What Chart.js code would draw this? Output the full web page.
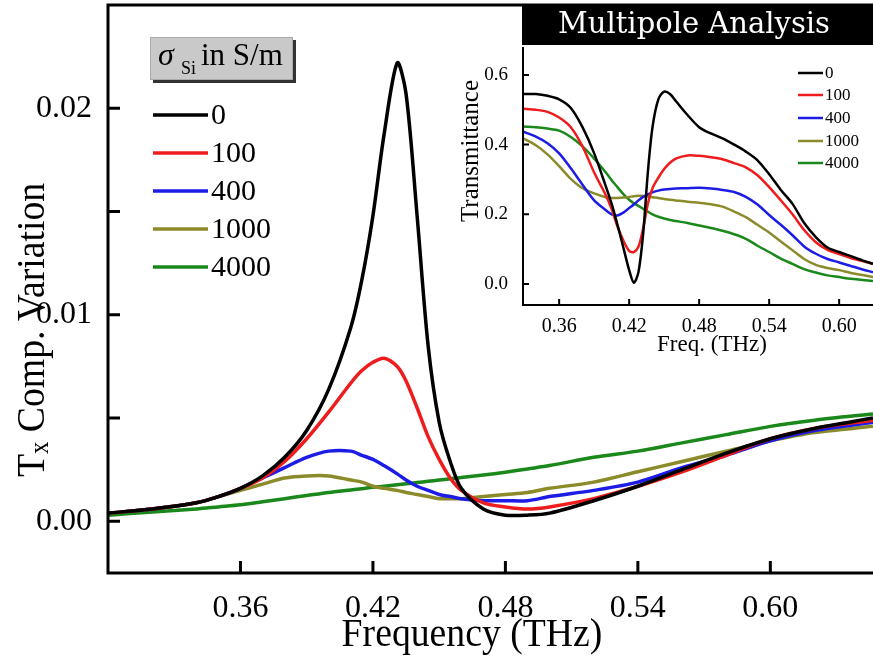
<!DOCTYPE html>
<html>
<head>
<meta charset="utf-8">
<script src="https://cdn.jsdelivr.net/npm/chart.js@4"></script>
<style>
  body { margin: 0; background: #fff; }
  #wrap { position: relative; width: 873px; height: 661px; overflow: hidden; }
  #main { position: absolute; left: 0; top: 0; }
  #inset { position: absolute; left: 440px; top: 0; }
</style>
</head>
<body>
<div id="wrap">
  <canvas id="main" width="873" height="661"></canvas>
  <canvas id="inset" width="433" height="365"></canvas>
</div>
<script>
var serif = "'Liberation Serif', 'Times New Roman', serif";

var sigmaLabels = ['0', '100', '400', '1000', '4000'];
var lineColors = ['#000000', '#ee1c1c', '#1c1ce6', '#8b8b2b', '#1a881a'];

// Tx component variation vs frequency (THz)
var freq = [0.30, 0.32, 0.34, 0.35, 0.36, 0.37, 0.38, 0.39, 0.40, 0.41, 0.415, 0.42, 0.425, 0.431, 0.435,
            0.44, 0.445, 0.45, 0.455, 0.46, 0.47, 0.48, 0.49, 0.50, 0.52, 0.54, 0.56, 0.58, 0.60, 0.62, 0.6465];
var tx0    = [0.0004, 0.0006, 0.0009, 0.0012, 0.0016, 0.0022, 0.0031, 0.0044, 0.0064, 0.0094, 0.0117, 0.0148, 0.0187, 0.0222, 0.0207,
              0.0148, 0.0085, 0.0048, 0.0029, 0.0016, 0.0006, 0.0003, 0.0003, 0.0004, 0.0010, 0.0017, 0.0025, 0.0033, 0.0040, 0.0045, 0.0050];
var tx100  = [0.0004, 0.0006, 0.0009, 0.0012, 0.0016, 0.0021, 0.0029, 0.0040, 0.0053, 0.0067, 0.0073, 0.0077, 0.0079, 0.0075, 0.0068,
              0.0055, 0.0041, 0.0030, 0.0021, 0.0015, 0.0009, 0.0007, 0.0006, 0.0007, 0.0011, 0.0017, 0.0024, 0.0032, 0.0040, 0.0045, 0.0049];
var tx400  = [0.0004, 0.0006, 0.0009, 0.0012, 0.0016, 0.0021, 0.0026, 0.0031, 0.0034, 0.0034, 0.0032, 0.0030, 0.0027, 0.0023, 0.0020,
              0.0017, 0.0015, 0.0013, 0.0012, 0.0011, 0.0010, 0.0010, 0.0010, 0.0012, 0.0015, 0.0019, 0.0026, 0.0032, 0.0039, 0.0044, 0.0048];
var tx1000 = [0.0004, 0.0006, 0.0009, 0.0012, 0.0015, 0.0018, 0.0021, 0.0022, 0.0022, 0.0020, 0.0019, 0.0017, 0.0016, 0.0015, 0.0014,
              0.0013, 0.0012, 0.0011, 0.0011, 0.0011, 0.0012, 0.0013, 0.0014, 0.0016, 0.0019, 0.0024, 0.0029, 0.0034, 0.0039, 0.0043, 0.0046];
var tx4000 = [0.0003, 0.00045, 0.0006, 0.0007, 0.0008, 0.00095, 0.0011, 0.00125, 0.0014, 0.00152, 0.00158, 0.00165, 0.0017, 0.00177, 0.00182,
              0.00188, 0.00194, 0.0020, 0.00206, 0.00212, 0.00224, 0.00238, 0.00254, 0.0027, 0.0031, 0.0034, 0.0038, 0.0042, 0.0046, 0.0049, 0.0052];

// transmittance (multipole analysis)
var freqInset = [0.329, 0.34, 0.35, 0.36, 0.37, 0.38, 0.39, 0.40, 0.405, 0.41, 0.415, 0.42, 0.424, 0.428, 0.432, 0.436, 0.44, 0.445, 0.45,
                 0.455, 0.46, 0.47, 0.48, 0.49, 0.50, 0.51, 0.52, 0.53, 0.54, 0.55, 0.56, 0.57, 0.58, 0.59, 0.60, 0.61, 0.62, 0.629];
var tr0    = [0.545, 0.545, 0.540, 0.530, 0.505, 0.450, 0.375, 0.280, 0.230, 0.170, 0.105, 0.040, 0.004, 0.035, 0.145, 0.320, 0.450, 0.530, 0.552,
              0.545, 0.525, 0.485, 0.450, 0.432, 0.418, 0.400, 0.380, 0.355, 0.315, 0.270, 0.230, 0.175, 0.135, 0.105, 0.092, 0.080, 0.068, 0.058];
var tr100  = [0.503, 0.500, 0.494, 0.478, 0.450, 0.395, 0.320, 0.255, 0.215, 0.165, 0.125, 0.095, 0.092, 0.108, 0.160, 0.230, 0.275, 0.305, 0.330,
              0.348, 0.360, 0.369, 0.368, 0.364, 0.358, 0.347, 0.335, 0.312, 0.278, 0.240, 0.200, 0.155, 0.120, 0.098, 0.086, 0.075, 0.066, 0.058];
var tr400  = [0.437, 0.423, 0.404, 0.375, 0.332, 0.285, 0.240, 0.212, 0.200, 0.197, 0.205, 0.218, 0.228, 0.240, 0.250, 0.257, 0.263, 0.268, 0.271,
              0.273, 0.274, 0.275, 0.276, 0.274, 0.270, 0.264, 0.250, 0.228, 0.198, 0.170, 0.140, 0.108, 0.087, 0.072, 0.062, 0.052, 0.042, 0.034];
var tr1000 = [0.418, 0.398, 0.372, 0.338, 0.302, 0.275, 0.260, 0.249, 0.247, 0.247, 0.248, 0.250, 0.252, 0.253, 0.253, 0.251, 0.249, 0.247, 0.244,
              0.242, 0.240, 0.236, 0.233, 0.229, 0.222, 0.208, 0.192, 0.170, 0.148, 0.122, 0.097, 0.072, 0.055, 0.046, 0.040, 0.032, 0.026, 0.020];
var tr4000 = [0.452, 0.450, 0.446, 0.440, 0.422, 0.395, 0.360, 0.320, 0.298, 0.278, 0.258, 0.242, 0.232, 0.224, 0.216, 0.208, 0.200, 0.193, 0.188,
              0.184, 0.181, 0.175, 0.168, 0.161, 0.153, 0.143, 0.130, 0.110, 0.092, 0.073, 0.058, 0.043, 0.033, 0.025, 0.020, 0.015, 0.012, 0.009];

var freqTicks = [0.36, 0.42, 0.48, 0.54, 0.60];
var txTicks = [0.00, 0.01, 0.02];
var txMinorTicks = [0.005, 0.015];
var trTicks = [0.0, 0.2, 0.4, 0.6];

function pts(xs, ys) {
  return xs.map(function (x, i) { return { x: x, y: ys[i] }; });
}

function makeSets(xs, series, width) {
  return series.map(function (ys, i) {
    return {
      label: sigmaLabels[i],
      data: pts(xs, ys),
      borderColor: lineColors[i],
      borderWidth: width,
      pointRadius: 0,
      fill: false,
      tension: 0.3
    };
  });
}

function fixedTicks(values) {
  return function (scale) {
    scale.ticks = values.map(function (v) { return { value: v }; });
  };
}

// keep the plot box where it is: no extra room for the end labels
function fixSize(prop, size) {
  return function (s) {
    s[prop] = size;
    s.paddingTop = 0; s.paddingBottom = 0;
    s.paddingLeft = 0; s.paddingRight = 0;
  };
}

// axis lines and inward tick marks
function drawFrame(chart, o) {
  var ctx = chart.ctx, a = chart.chartArea;
  var xs = chart.scales.x, ys = chart.scales.y;
  ctx.save();
  ctx.strokeStyle = '#000';
  ctx.lineWidth = o.lw;
  ctx.beginPath();
  ctx.moveTo(a.left, a.top);
  ctx.lineTo(a.left, a.bottom);
  ctx.lineTo(a.right, a.bottom);
  if (o.top) {
    ctx.moveTo(a.left - o.lw / 2, a.top);
    ctx.lineTo(a.right, a.top);
  }
  o.xTicks.forEach(function (v) {
    var p = xs.getPixelForValue(v);
    ctx.moveTo(p, a.bottom);
    ctx.lineTo(p, a.bottom - o.len);
  });
  o.yTicks.forEach(function (v) {
    var p = ys.getPixelForValue(v);
    ctx.moveTo(a.left, p);
    ctx.lineTo(a.left + o.len, p);
  });
  ctx.stroke();
  ctx.restore();
}

var mainDecor = {
  id: 'mainDecor',
  afterDraw: function (chart) {
    var ctx = chart.ctx;
    drawFrame(chart, { lw: 3, len: 12, top: true, xTicks: freqTicks, yTicks: txTicks.concat(txMinorTicks) });

    ctx.save();
    ctx.fillStyle = '#000';

    // x title
    ctx.save();
    ctx.font = '41px ' + serif;
    ctx.textAlign = 'center';
    ctx.textBaseline = 'alphabetic';
    ctx.translate(472, 646);
    ctx.scale(0.92, 1);
    ctx.fillText('Frequency (THz)', 0, 0);
    ctx.restore();

    // y title with subscript
    ctx.save();
    ctx.translate(44, 330);
    ctx.rotate(-Math.PI / 2);
    ctx.scale(0.92, 1);
    ctx.textBaseline = 'alphabetic';
    ctx.font = '41px ' + serif;
    var wT = ctx.measureText('T').width;
    var rest = ' Comp. Variation';
    var wR = ctx.measureText(rest).width;
    ctx.font = '27px ' + serif;
    var wX = ctx.measureText('x').width;
    var x0 = -(wT + wX + wR) / 2;
    ctx.font = '41px ' + serif;
    ctx.fillText('T', x0, 0);
    ctx.font = '27px ' + serif;
    ctx.fillText('x', x0 + wT, 4);
    ctx.font = '41px ' + serif;
    ctx.fillText(rest, x0 + wT + wX, 0);
    ctx.restore();

    // legend title box
    ctx.fillStyle = '#333';
    ctx.fillRect(153, 40, 143, 43);
    ctx.fillStyle = '#c9c9c9';
    ctx.fillRect(150, 37, 143, 43);
    ctx.strokeStyle = '#aaa';
    ctx.lineWidth = 1;
    ctx.strokeRect(150.5, 37.5, 142, 42);
    ctx.fillStyle = '#000';
    ctx.textBaseline = 'alphabetic';
    ctx.textAlign = 'left';
    ctx.font = 'italic 32px ' + serif;
    ctx.fillText('\u03c3', 158, 65);
    ctx.font = '18px ' + serif;
    ctx.fillText('Si', 181, 74);
    ctx.font = '31px ' + serif;
    ctx.fillText('in S/m', 201, 65);

    // legend rows
    var rows = [115, 153, 191, 229, 267];
    chart.data.datasets.forEach(function (ds, i) {
      ctx.strokeStyle = ds.borderColor;
      ctx.lineWidth = 3.5;
      ctx.beginPath();
      ctx.moveTo(153, rows[i]);
      ctx.lineTo(208, rows[i]);
      ctx.stroke();
      ctx.fillStyle = '#000';
      ctx.font = '30px ' + serif;
      ctx.textBaseline = 'middle';
      ctx.fillText(ds.label, 211, rows[i] + 1);
    });
    ctx.restore();
  }
};

var insetDecor = {
  id: 'insetDecor',
  afterDraw: function (chart) {
    var ctx = chart.ctx;
    drawFrame(chart, { lw: 2, len: 6, top: false, xTicks: freqTicks, yTicks: trTicks });

    ctx.save();
    // title bar
    ctx.fillStyle = '#000';
    ctx.fillRect(82, 4, 351, 41);
    ctx.fillStyle = '#fff';
    ctx.font = '29px "DejaVu Serif", serif';
    ctx.textAlign = 'center';
    ctx.textBaseline = 'middle';
    ctx.fillText('Multipole Analysis', 254, 25);

    ctx.fillStyle = '#000';
    ctx.font = '23px ' + serif;
    ctx.fillText('Freq. (THz)', 272, 345);
    ctx.save();
    ctx.translate(31, 151);
    ctx.rotate(-Math.PI / 2);
    ctx.font = '25px ' + serif;
    ctx.fillText('Transmittance', 0, 0);
    ctx.restore();

    var rows = [73, 95, 118, 141, 163];
    ctx.textAlign = 'left';
    chart.data.datasets.forEach(function (ds, i) {
      ctx.strokeStyle = ds.borderColor;
      ctx.lineWidth = 2.5;
      ctx.beginPath();
      ctx.moveTo(358, rows[i]);
      ctx.lineTo(383, rows[i]);
      ctx.stroke();
      ctx.fillStyle = '#000';
      ctx.font = '17px ' + serif;
      ctx.fillText(ds.label, 385, rows[i] + 1);
    });
    ctx.restore();
  }
};

new Chart(document.getElementById('main'), {
  type: 'line',
  data: { datasets: makeSets(freq, [tx0, tx100, tx400, tx1000, tx4000], 3.5) },
  options: {
    responsive: false,
    animation: false,
    layout: { padding: { left: 0, top: 5, right: 0, bottom: 0 } },
    plugins: { legend: { display: false }, tooltip: { enabled: false } },
    scales: {
      x: {
        type: 'linear', min: 0.30, max: 0.6465,
        afterBuildTicks: fixedTicks(freqTicks),
        afterFit: fixSize('height', 88),
        grid: { display: false }, border: { display: false },
        ticks: { color: '#000', padding: 8, maxRotation: 0, font: { family: serif, size: 32 },
                 callback: function (v) { return v.toFixed(2); } }
      },
      y: {
        type: 'linear', min: -0.0025, max: 0.025,
        afterBuildTicks: fixedTicks(txTicks),
        afterFit: fixSize('width', 108),
        grid: { display: false }, border: { display: false },
        ticks: { color: '#000', padding: 8, font: { family: serif, size: 32 },
                 callback: function (v) { return v.toFixed(2); } }
      }
    }
  },
  plugins: [mainDecor]
});

new Chart(document.getElementById('inset'), {
  type: 'line',
  data: { datasets: makeSets(freqInset, [tr0, tr100, tr400, tr1000, tr4000], 2.5) },
  options: {
    responsive: false,
    animation: false,
    layout: { padding: { left: 0, top: 47, right: 0, bottom: 0 } },
    plugins: { legend: { display: false }, tooltip: { enabled: false } },
    scales: {
      x: {
        type: 'linear', min: 0.329, max: 0.629,
        afterBuildTicks: fixedTicks(freqTicks),
        afterFit: fixSize('height', 60),
        grid: { display: false }, border: { display: false },
        ticks: { color: '#000', padding: 2, maxRotation: 0, font: { family: serif, size: 20 },
                 callback: function (v) { return v.toFixed(2); } }
      },
      y: {
        type: 'linear', min: -0.06, max: 0.68,
        afterBuildTicks: fixedTicks(trTicks),
        afterFit: fixSize('width', 83),
        grid: { display: false }, border: { display: false },
        ticks: { color: '#000', padding: 7, font: { family: serif, size: 19 },
                 callback: function (v) { return v.toFixed(1); } }
      }
    }
  },
  plugins: [insetDecor]
});
</script>
</body>
</html>
